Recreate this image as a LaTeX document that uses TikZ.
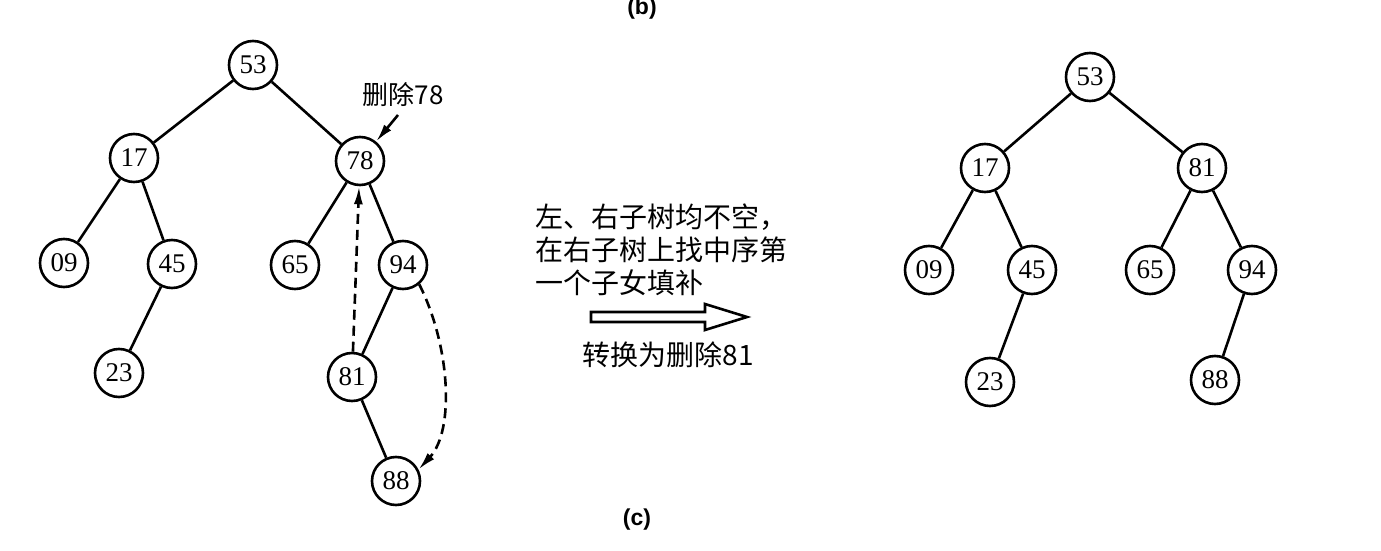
\documentclass[tikz,border=0pt]{standalone}
\usepackage{fontspec}
\setmainfont{Liberation Serif}
\newfontfamily\cjk{Noto Sans CJK SC}
\newfontfamily\lsans{Liberation Sans}
\usetikzlibrary{arrows.meta}
\begin{document}
\begin{tikzpicture}[x=0.5pt,y=-0.5pt,
  tnode/.style={circle,draw,line width=1.3pt,minimum size=24pt,inner sep=0pt,font=\fontsize{13.5}{14}\selectfont},
  tedge/.style={line width=1.3pt},
  dashedarrow/.style={line width=1.3pt,dash pattern=on 5pt off 3pt,-{Latex[length=9pt,width=4.5pt]}},
  solidarrow/.style={line width=1.3pt,-{Latex[length=9pt,width=4.5pt]}},
  captext/.style={font=\lsans\bfseries\fontsize{11.5}{12}\selectfont}
]
\useasboundingbox (0,0) rectangle (1381,551);
\fill[white] (0,0) rectangle (1381,551);

% captions
\node[captext] (capb) at (642,9) {(b)};
\node[captext] (capc) at (637,520) {(c)};

% left tree
\node[tnode] (L53) at (253,65) {53};
\node[tnode] (L17) at (134,158) {17};
\node[tnode] (L78) at (360,161) {78};
\node[tnode] (L09) at (64,263) {09};
\node[tnode] (L45) at (172,264) {45};
\node[tnode] (L65) at (295,265) {65};
\node[tnode] (L94) at (403,265) {94};
\node[tnode] (L23) at (119,373) {23};
\node[tnode] (L81) at (352,377) {81};
\node[tnode] (L88) at (396,481) {88};
\draw[tedge] (L53) -- (L17);
\draw[tedge] (L53) -- (L78);
\draw[tedge] (L17) -- (L09);
\draw[tedge] (L17) -- (L45);
\draw[tedge] (L45) -- (L23);
\draw[tedge] (L78) -- (L65);
\draw[tedge] (L78) -- (L94);
\draw[tedge] (L94) -- (L81);
\draw[tedge] (L81) -- (L88);

\node[font=\cjk\fontsize{13}{14}\selectfont] (del) at (403,95) {删除78};
\coordinate (delstart) at (398,115);
\draw[solidarrow] (delstart) -- (L78);
\draw[dashedarrow] (L81) -- (L78);
\draw[dashedarrow] (L94.-50) .. controls (450,345) and (455,430) .. (L88.27);

% middle text and arrow
\node[font=\cjk\fontsize{14}{16.5}\selectfont,align=left,anchor=west,inner sep=0pt] (desc) at (535,250) {左、右子树均不空，\\在右子树上找中序第\\一个子女填补};
\draw[line width=1.3pt,line join=miter] (591,312) -- (705,312) -- (705,304) -- (747,317) -- (705,330) -- (705,322) -- (591,322) -- cycle;
\node[font=\cjk\fontsize{14}{16}\selectfont] (conv) at (668,355) {转换为删除81};

% right tree
\node[tnode] (R53) at (1090,77) {53};
\node[tnode] (R17) at (985,168) {17};
\node[tnode] (R81) at (1202,168) {81};
\node[tnode] (R09) at (929,270) {09};
\node[tnode] (R45) at (1032,270) {45};
\node[tnode] (R65) at (1150,270) {65};
\node[tnode] (R94) at (1252,270) {94};
\node[tnode] (R23) at (990,382) {23};
\node[tnode] (R88) at (1215,380) {88};
\draw[tedge] (R53) -- (R17);
\draw[tedge] (R53) -- (R81);
\draw[tedge] (R17) -- (R09);
\draw[tedge] (R17) -- (R45);
\draw[tedge] (R45) -- (R23);
\draw[tedge] (R81) -- (R65);
\draw[tedge] (R81) -- (R94);
\draw[tedge] (R94) -- (R88);
\end{tikzpicture}
\end{document}
